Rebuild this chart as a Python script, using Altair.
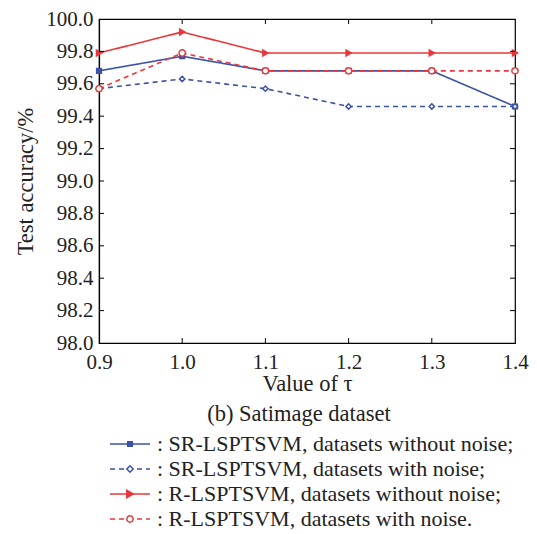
import altair as alt
import pandas as pd

tau = [0.9, 1.0, 1.1, 1.2, 1.3, 1.4]
sr_clean = [99.68, 99.77, 99.68, 99.68, 99.68, 99.46]
sr_noise = [99.57, 99.63, 99.57, 99.46, 99.46, 99.46]
r_clean = [99.79, 99.92, 99.79, 99.79, 99.79, 99.79]
r_noise = [99.57, 99.79, 99.68, 99.68, 99.68, 99.68]

series_names = ["SR-LSPTSVM, datasets without noise",
                "SR-LSPTSVM, datasets with noise",
                "R-LSPTSVM, datasets without noise",
                "R-LSPTSVM, datasets with noise"]
legend_labels = [": SR-LSPTSVM, datasets without noise;",
                 ": SR-LSPTSVM, datasets with noise;",
                 ": R-LSPTSVM, datasets without noise;",
                 ": R-LSPTSVM, datasets with noise."]
y_ticks = [98.0, 98.2, 98.4, 98.6, 98.8, 99.0, 99.2, 99.4, 99.6, 99.8, 100.0]
x_ticks = [0.9, 1.0, 1.1, 1.2, 1.3, 1.4]

BLUE = "#3a52a6"
RED = "#e8383d"
colors = [BLUE, BLUE, RED, RED]
dashes = [[1, 0], [5, 4], [1, 0], [5, 4]]
shapes = ["square", "diamond", "triangle-right", "circle"]
fills = [BLUE, "white", RED, "white"]
sizes = [22, 40, 55, 40]

W, H = 416, 324
FONT = "Liberation Serif"
FS = 21
FT = 22.5
FL = 22

rows = []
for name, vals in zip(series_names, [sr_clean, sr_noise, r_clean, r_noise]):
    for t, v in zip(tau, vals):
        rows.append({"tau": t, "acc": v, "series": name})
df = pd.DataFrame(rows)

xs = alt.Scale(domain=[0.9, 1.4], nice=False, zero=False)
ys = alt.Scale(domain=[98.0, 100.0], nice=False, zero=False)

x_axis = alt.Axis(values=x_ticks, format=".1f", title="Value of τ",
                  ticks=False, labelPadding=8, titlePadding=0,
                  labelFlush=False, labelOverlap=False)
y_axis = alt.Axis(values=y_ticks, format=".1f", title="Test accuracy/%",
                  ticks=False, labelPadding=6, titlePadding=8,
                  labelOverlap=False)
X = alt.X("tau:Q", scale=xs, axis=x_axis)
Y = alt.Y("acc:Q", scale=ys, axis=y_axis)

col = alt.Color("series:N", scale=alt.Scale(domain=series_names, range=colors), legend=None)
dash = alt.StrokeDash("series:N", scale=alt.Scale(domain=series_names, range=dashes), legend=None)

lines = alt.Chart(df).mark_line(strokeWidth=1.6, clip=False).encode(
    x=X, y=Y, color=col, strokeDash=dash, detail="series:N")

points = alt.Chart(df).mark_point(filled=False, strokeWidth=1.5, clip=False).encode(
    x=X, y=Y,
    stroke=alt.Stroke("series:N", scale=alt.Scale(domain=series_names, range=colors), legend=None),
    shape=alt.Shape("series:N", scale=alt.Scale(domain=series_names, range=shapes), legend=None),
    fill=alt.Fill("series:N", scale=alt.Scale(domain=series_names, range=fills), legend=None),
    size=alt.Size("series:N", scale=alt.Scale(domain=series_names, range=sizes), legend=None),
    opacity=alt.value(1),
)

ytdf = pd.DataFrame({"acc": y_ticks[1:-1]})
xtdf = pd.DataFrame({"tau": x_ticks[1:-1]})
tick_l = alt.Chart(ytdf).mark_rule(color="black", strokeWidth=1).encode(
    y=Y, x=alt.value(0), x2=alt.value(5))
tick_r = alt.Chart(ytdf).mark_rule(color="black", strokeWidth=1).encode(
    y=Y, x=alt.value(W - 5), x2=alt.value(W))
tick_b = alt.Chart(xtdf).mark_rule(color="black", strokeWidth=1).encode(
    x=X, y=alt.value(H), y2=alt.value(H - 5))
tick_t = alt.Chart(xtdf).mark_rule(color="black", strokeWidth=1).encode(
    x=X, y=alt.value(0), y2=alt.value(5))

layers = [lines, points, tick_l, tick_r, tick_b, tick_t]

caption = alt.Chart(pd.DataFrame({"t": ["(b) Satimage dataset"]})).mark_text(
    font=FONT, fontSize=FT, color="#222", baseline="middle", align="center").encode(
    text="t:N", x=alt.value(W / 2 - 8), y=alt.value(H + 71))
layers.append(caption)

row_y0 = H + 101
row_dy = 25
for i in range(4):
    yy = row_y0 + i * row_dy
    one = pd.DataFrame({"label": [legend_labels[i]]})
    layers.append(alt.Chart(one).mark_rule(color=colors[i], strokeWidth=1.6,
                                           strokeDash=dashes[i]).encode(
        x=alt.value(11), x2=alt.value(51), y=alt.value(yy)))
    layers.append(alt.Chart(one).mark_point(shape=shapes[i], filled=True, fill=fills[i],
                                            stroke=colors[i], strokeWidth=1.5,
                                            size=sizes[i], opacity=1).encode(
        x=alt.value(31), y=alt.value(yy)))
    layers.append(alt.Chart(one).mark_text(font=FONT, fontSize=FL, color="#222",
                                           align="left", baseline="middle").encode(
        text="label:N", x=alt.value(58), y=alt.value(yy)))

chart = alt.layer(*layers).properties(
    width=W, height=H,
    autosize=alt.AutoSizeParams(type="none"),
    padding={"left": 91, "top": 11, "right": 14, "bottom": 190},
).configure(background="white").configure_view(
    stroke="black", strokeWidth=1.2
).configure_axis(
    labelFont=FONT, titleFont=FONT, labelFontSize=FS, titleFontSize=FT,
    labelColor="#222", titleColor="#222", titleFontWeight="normal",
    domainColor="black", domainWidth=1.2, grid=False,
)

chart.save("out.html", embed_options={"renderer": "svg", "actions": False})
